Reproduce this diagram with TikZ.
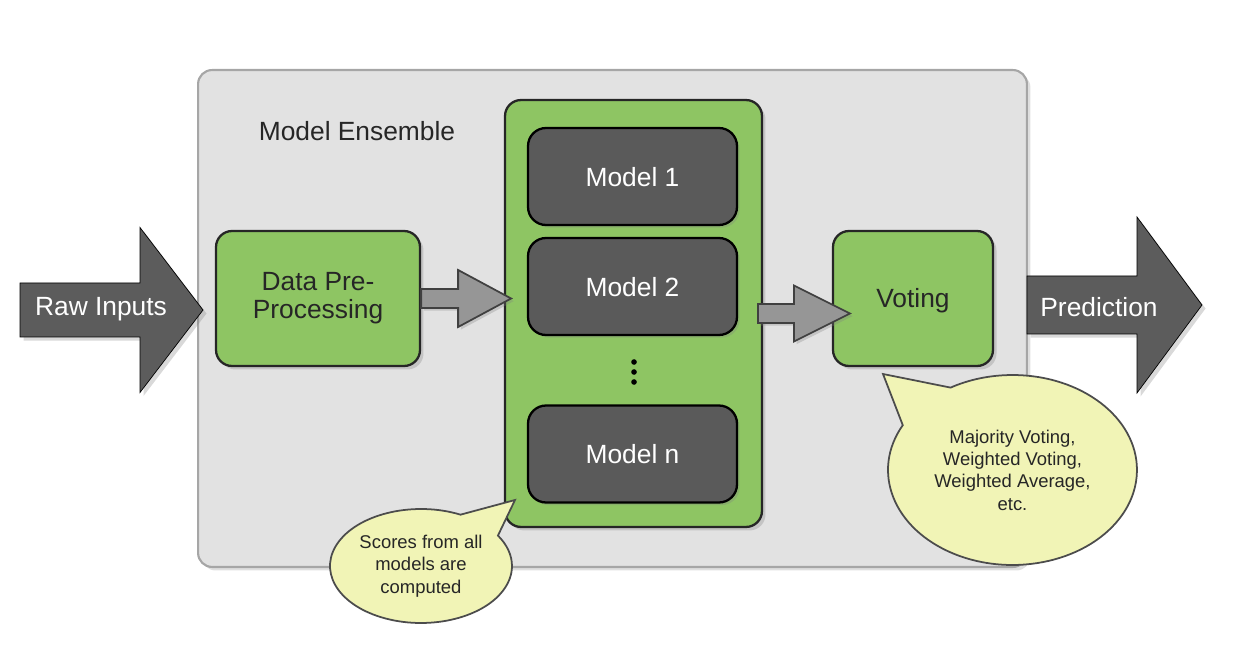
\documentclass[tikz,border=0pt]{standalone}
\usepackage{fontspec}
\setmainfont{Liberation Sans}
\usetikzlibrary{shapes.geometric, shapes.callouts, shadows}
\definecolor{stagegreen}{RGB}{142,197,99}
\definecolor{modelgray}{RGB}{90,90,90}
\definecolor{panelgray}{RGB}{226,226,226}
\definecolor{bubbleyellow}{RGB}{241,244,182}
\definecolor{arrowdark}{RGB}{92,92,92}
\definecolor{arrowlight}{RGB}{150,150,150}
\tikzstyle{panel} = [rectangle, rounded corners=0.28cm, draw=black!35, line width=1.2pt, fill=panelgray, inner sep=0pt, drop shadow={shadow xshift=2pt, shadow yshift=-2pt, opacity=0.25}]
\tikzstyle{stage} = [rectangle, rounded corners=0.32cm, draw=black!85, line width=1.3pt, fill=stagegreen, inner sep=0pt, align=center, text=black!85, font=\fontsize{15}{17.5}\selectfont, drop shadow={shadow xshift=2pt, shadow yshift=-2pt, opacity=0.3}]
\tikzstyle{model} = [rectangle, rounded corners=0.36cm, draw=black, line width=1.3pt, fill=modelgray, minimum width=4.18cm, minimum height=1.94cm, inner sep=0pt, text=white, text height=1.1em, text depth=0pt, font=\fontsize{15}{17.5}\selectfont, drop shadow={shadow xshift=1.5pt, shadow yshift=-1.5pt, opacity=0.3}]
\tikzstyle{dot} = [circle, fill=black, minimum size=3.2pt, inner sep=0pt]
\tikzstyle{bubble} = [ellipse callout, draw=black!70, line width=1pt, fill=bubbleyellow, inner sep=0pt, align=center, text=black!85, font=\fontsize{10.5}{12.7}\selectfont, callout pointer arc=32]
\tikzstyle{bigarrow} = [fill=arrowdark, drop shadow={shadow xshift=2pt, shadow yshift=-2pt, opacity=0.3}]
\tikzstyle{smallarrow} = [fill=arrowlight, draw=black!75, line width=1pt, drop shadow={shadow xshift=1.5pt, shadow yshift=-1.5pt, opacity=0.3}]
\tikzstyle{arrowlabel} = [text=white, font=\fontsize{15}{17.5}\selectfont]
% fat arrow: style, tail centre, length, head length, shaft half width, head half width
\newcommand{\fatarrow}[6]{\draw[#1] #2 ++(0,-#5) -- ++({#3-#4},0) -- ++(0,{#5-#6}) -- ++(#4,#6) -- ++(-#4,#6) -- ++(0,{#5-#6}) -- ++({#4-#3},0) -- cycle;}

\begin{document}
\begin{tikzpicture}[x=0.02cm, y=-0.02cm]
            \useasboundingbox (0,0) rectangle (1242,662);
            \node [panel, minimum width=16.58cm, minimum height=9.94cm] at (612.5,318.5) (panel) {};
            \node [text=black!85, font=\fontsize{15}{17.5}\selectfont] at (357,131) (title) {Model Ensemble};
            \node [stage, minimum width=4.08cm, minimum height=2.7cm] at (318,298.5) (pre) {\raisebox{-2pt}{\begin{tabular}{@{}c@{}}Data Pre-\\[-1.5pt]Processing\end{tabular}}};
            \node [stage, minimum width=5.14cm, minimum height=8.54cm] at (633.5,313.5) (ens) {};
            \node [model] at (632.5,176.5) (m1) {Model 1};
            \node [model] at (632.5,286.5) (m2) {Model 2};
            \node [dot] at (634,362) (d1) {};
            \node [dot] at (634,372) (d2) {};
            \node [dot] at (634,382) (d3) {};
            \node [model] at (632.5,454) (mn) {Model n};
            \node [stage, minimum width=3.2cm, minimum height=2.7cm, text height=1.05em, text depth=0pt] at (913,298.5) (vote) {Voting};
            % connectors between the stages
            \fatarrow{smallarrow}{(pre.east)}{90}{53}{9.5}{28.5}
            \fatarrow{smallarrow}{(ens.east -| 758,298.5)}{92}{56}{9.5}{28}
            % input and output
            \coordinate (rawtail) at (20,310);
            \coordinate (predtail) at (1027,305);
            \fatarrow{bigarrow}{(rawtail)}{183}{63}{27}{82.5}
            \fatarrow{bigarrow}{(predtail)}{175}{65}{29}{88}
            \node [arrowlabel] at (101,309) (raw) {Raw Inputs};
            \node [arrowlabel] at (1099,307) (pred) {Prediction};
            % remarks
            \node [bubble, minimum width=3.64cm, minimum height=2.28cm, callout absolute pointer={(515,500)}] at (421,566) (scores) {Scores from all\\models are\\computed};
            \node [bubble, minimum width=4.98cm, minimum height=3.8cm, callout absolute pointer={(883,374)}] at (1012.5,470) (votes) {Majority Voting,\\Weighted Voting,\\Weighted Average,\\etc.};
            \end{tikzpicture}
\end{document}
